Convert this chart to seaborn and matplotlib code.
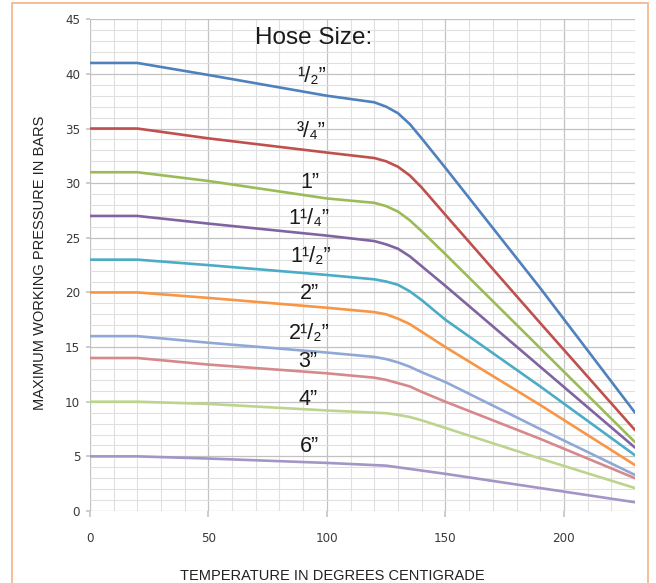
import numpy as np
import pandas as pd
import seaborn as sns
import matplotlib.pyplot as plt
from matplotlib.patches import Rectangle
from matplotlib.ticker import MultipleLocator

# temperature points (deg C) and pressure (bar)
temps = [0, 20, 50, 100, 120, 125, 130, 135, 140, 150, 190, 230]

sizes = ["1/2", "3/4", "1", "1 1/4", "1 1/2", "2", "2 1/2", "3", "4", "6"]
p_half = [41, 41, 39.9, 38.0, 37.4, 37.0, 36.4, 35.4, 34.1, 31.4, 20.4, 9.0]
p_3q = [35, 35, 34.1, 32.8, 32.3, 32.0, 31.5, 30.7, 29.6, 27.1, 17.2, 7.4]
p_1 = [31, 31, 30.2, 28.6, 28.2, 27.9, 27.4, 26.6, 25.6, 23.5, 14.9, 6.3]
p_1q = [27, 27, 26.3, 25.2, 24.7, 24.4, 24.0, 23.3, 22.4, 20.6, 13.2, 5.8]
p_1h = [23, 23, 22.5, 21.6, 21.2, 21.0, 20.7, 20.1, 19.3, 17.5, 11.4, 5.1]
p_2 = [20, 20, 19.5, 18.6, 18.2, 18.0, 17.6, 17.1, 16.4, 15.0, 9.7, 4.2]
p_2h = [16, 16, 15.4, 14.5, 14.1, 13.9, 13.6, 13.2, 12.7, 11.8, 7.5, 3.3]
p_3 = [14, 14, 13.4, 12.6, 12.2, 12.0, 11.7, 11.4, 10.9, 10.0, 6.6, 3.0]
p_4 = [10, 10, 9.8, 9.2, 9.0, 8.95, 8.8, 8.6, 8.3, 7.6, 4.8, 2.1]
p_6 = [5, 5, 4.8, 4.4, 4.2, 4.15, 4.0, 3.85, 3.7, 3.4, 2.1, 0.8]

colors = ["#4f81bd", "#c0504d", "#9bbb59", "#8064a2", "#4bacc6",
          "#f79646", "#8fa8d6", "#d6898b", "#bdd48f", "#a395c6"]

# label text and spot for each curve
labels = ["¹/₂”", "³/₄”", "1”", "1¹/₄”", "1¹/₂”", "2”", "2¹/₂”", "3”", "4”", "6”"]
label_x = [93.4, 93.4, 93, 92.6, 93, 92.6, 92.6, 92, 92, 92.6]
label_y = [39.8, 34.7, 30.1, 26.8, 23.3, 19.9, 16.2, 13.7, 10.2, 5.9]

series = [p_half, p_3q, p_1, p_1q, p_1h, p_2, p_2h, p_3, p_4, p_6]
df = pd.concat([pd.DataFrame({"temp": temps, "pressure": vals, "size": s})
                for s, vals in zip(sizes, series)], ignore_index=True)

sns.set_theme(style="white")
plt.rcParams['font.family'] = ['Liberation Sans', 'DejaVu Sans']

fig = plt.figure(figsize=(6.56, 5.83), dpi=100)
ax = fig.add_axes([0.137, 0.1235, 0.831, 0.8435])

sns.lineplot(data=df, x="temp", y="pressure", hue="size", palette=colors,
             hue_order=sizes, estimator=None, sort=False, linewidth=1.9,
             legend=False, ax=ax)

ax.set_xlim(0, 230)
ax.set_ylim(0, 45)
ax.xaxis.set_major_locator(MultipleLocator(50))
ax.xaxis.set_minor_locator(MultipleLocator(10))
ax.yaxis.set_major_locator(MultipleLocator(5))
ax.yaxis.set_minor_locator(MultipleLocator(1))
ax.grid(which="major", color="#c2c2c2", linewidth=0.9)
ax.grid(which="minor", color="#e0e0e0", linewidth=0.8)
ax.set_axisbelow(True)
for sp in ax.spines.values():
    sp.set_visible(False)

ax.tick_params(axis="x", which="major", length=4, color="#c6c6c6", pad=11,
               labelsize=9.5, labelcolor="#3a3a3a", bottom=True)
ax.tick_params(axis="y", which="major", length=3, color="#c6c6c6", pad=4,
               labelsize=9.5, labelcolor="#3a3a3a", left=True)
ax.tick_params(which="minor", length=0)
for lab in ax.get_xticklabels() + ax.get_yticklabels():
    lab.set_family(["DejaVu Sans"])
    lab.set_fontstretch("condensed")

ax.set_xlabel("")
ax.set_ylabel("")
fig.text(332 / 656, 1 - 576 / 583, "TEMPERATURE IN DEGREES CENTIGRADE",
         ha="center", va="center", fontsize=10.5, color="#222222")
fig.text(40 / 656, 1 - 263 / 583, "MAXIMUM WORKING PRESSURE IN BARS",
         ha="center", va="center", rotation=90, fontsize=10.5, color="#222222")

ax.text(94.3, 43.3, "Hose Size:", ha="center", va="center", fontsize=17.5,
        color="#1a1a1a")
for t, x, y in zip(labels, label_x, label_y):
    ax.text(x, y, t, ha="center", va="center", fontsize=15.5, color="#1a1a1a")

# light orange frame round the picture
fig.patches.append(Rectangle((11.5 / 656, -0.02), (648 - 11.5) / 656,
                             1.012 - 4.5 / 583 + 0.01, transform=fig.transFigure,
                             fill=False, edgecolor="#f7b98f", linewidth=1.3))

fig.savefig("out.png", dpi=100)
